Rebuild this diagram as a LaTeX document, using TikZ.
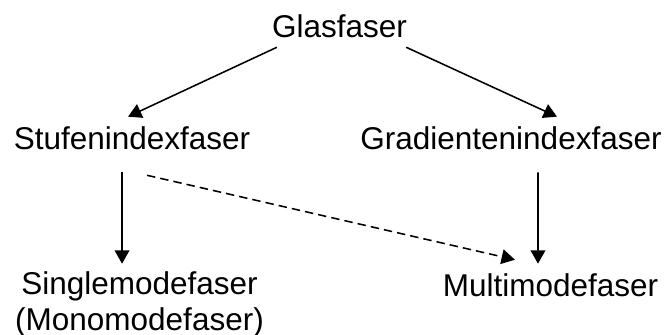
\documentclass[tikz,border=0pt]{standalone}
\usepackage{fontspec}
\setmainfont{Liberation Sans}
\usetikzlibrary{arrows.meta}

\begin{document}
\begin{tikzpicture}[
            x=0.025cm, y=-0.025cm, % one unit = one pixel, y downwards
            text_style/.style={inner sep=0pt, anchor=base, align=center,
                    font=\fontsize{22.4pt}{24.9pt}\selectfont},
            node_style/.style={text_style, text height=22.8pt, text depth=7.1pt},
            fiber_type/.style={node_style, text depth=16.4pt},
            edge_style/.style={-{Triangle[length=9.5pt, width=10.5pt]}, line width=1.1pt, black},
            dashed_edge/.style={edge_style, dash pattern=on 6pt off 3.6pt}
        ]
        \useasboundingbox (0,0) rectangle (667,335);

        % Nodes by level
        \node[node_style] (glas) at (339.5, 37) {Glasfaser};

        \node[fiber_type] (stufen) at (132, 149) {Stufenindexfaser};
        \node[fiber_type] (grad) at (511, 149) {Gradientenindexfaser};

        % two lines: base is the baseline of the last line
        \node[text_style] (single) at (139.5, 330) {Singlemodefaser\\(Monomodefaser)};
        \node[node_style] (multi) at (550.5, 296) {Multimodefaser};

        % Edges
        \draw[edge_style] ([xshift=3.6pt]glas.south west) -- ([xshift=-2.8pt]stufen.north);
        \draw[edge_style] ([xshift=-0.7pt]glas.south east) -- ([xshift=32.7pt]grad.north);

        \draw[edge_style] ([xshift=-7.1pt]stufen.south) -- ([xshift=-7.1pt]stufen.south |- multi.north);
        \draw[dashed_edge] ([xshift=10.7pt, yshift=-2.1pt]stufen.south) -- ([xshift=-25.3pt, yshift=2.8pt]multi.north);
        \draw[edge_style] ([xshift=19.2pt]grad.south) -- ([xshift=-8.9pt]multi.north);

    \end{tikzpicture}
\end{document}
